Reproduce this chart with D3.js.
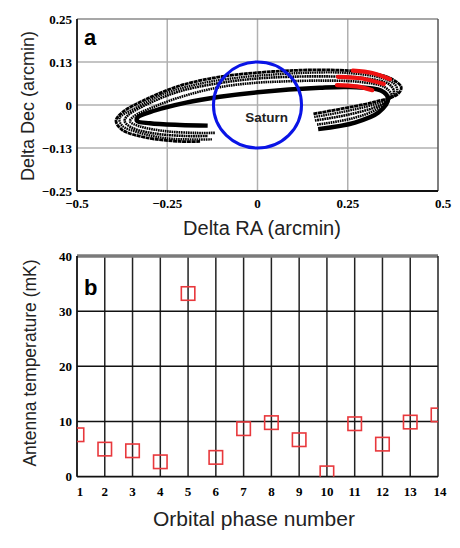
<!DOCTYPE html>
<html><head><meta charset="utf-8">
<script src="https://cdn.jsdelivr.net/npm/d3@7"></script>
<style>body{margin:0;background:#fff}svg{display:block}</style>
</head><body>
<script>
// ---------- Panel a data ----------
const raTicks = [-0.5, -0.25, 0, 0.25, 0.5];
const raTickLabels = ["\u22120.5", "\u22120.25", "0", "0.25", "0.5"];
const decTicks = [-0.25, -0.125, 0, 0.125, 0.25];
const decTickLabels = ["\u22120.25", "\u22120.13", "0", "0.13", "0.25"];
const saturnRadius = [0.122, 0.125]; // [RA, Dec] arcmin
// orbit tracks [RA, Dec]
const track1 = [[0.155,-0.026],[0.242,-0.009],[0.325,0.009],[0.389,0.032],[0.398,0.052],[0.373,0.075],[0.312,0.094],[0.201,0.102],[0.090,0.100],[0,0.094],[-0.104,0.082],[-0.215,0.056],[-0.312,0.015],[-0.375,-0.022],[-0.392,-0.046],[-0.375,-0.072],[-0.312,-0.094],[-0.215,-0.106],[-0.159,-0.106]];
const track1b = [[0.157,-0.035],[0.250,-0.017],[0.332,0.005],[0.386,0.035],[0.382,0.058],[0.345,0.078],[0.250,0.093],[0.150,0.094],[0.050,0.089],[-0.050,0.080],[-0.160,0.062],[-0.260,0.032],[-0.340,-0.010],[-0.382,-0.038],[-0.375,-0.060],[-0.330,-0.080],[-0.250,-0.097],[-0.170,-0.100],[-0.125,-0.100]];
const track2 = [[0.159,-0.045],[0.256,-0.027],[0.339,0.000],[0.378,0.036],[0.365,0.060],[0.298,0.078],[0.201,0.083],[0.090,0.082],[0,0.077],[-0.104,0.064],[-0.215,0.040],[-0.298,0.006],[-0.359,-0.030],[-0.368,-0.047],[-0.348,-0.066],[-0.284,-0.083],[-0.201,-0.090],[-0.137,-0.090]];
const track3 = [[0.165,-0.057],[0.262,-0.039],[0.334,-0.010],[0.370,0.029],[0.352,0.052],[0.284,0.067],[0.173,0.071],[0.062,0.068],[0,0.065],[-0.104,0.052],[-0.201,0.027],[-0.284,-0.004],[-0.345,-0.035],[-0.353,-0.048],[-0.326,-0.062],[-0.256,-0.076],[-0.173,-0.081],[-0.118,-0.081]];
const track4 = [[0.168,-0.070],[0.270,-0.051],[0.335,-0.022],[0.362,0.018],[0.342,0.042],[0.256,0.052],[0.173,0.050],[0,0.037],[-0.104,0.024],[-0.201,0.006],[-0.284,-0.016],[-0.331,-0.035],[-0.334,-0.046],[-0.298,-0.053],[-0.215,-0.058],[-0.138,-0.060]];
const redSeg1 = [[0.264,0.100],[0.318,0.093],[0.367,0.075]];
const redSeg2 = [[0.223,0.082],[0.290,0.077],[0.350,0.061]];
const redSeg3 = [[0.220,0.058],[0.275,0.054],[0.318,0.043]];

// ---------- Panel b data ----------
const phases = [1,2,3,4,5,6,7,8,9,10,11,12,13,14];
const temps = [7.6,5.0,4.7,2.7,33.2,3.5,8.7,9.8,6.7,0.7,9.6,5.9,9.9,11.2];
const tempTicks = [0,10,20,30,40];

const W = 460, H = 548;
const svg = d3.select("body").append("svg").attr("width", W).attr("height", H);
const serif = "'Liberation Serif','Times New Roman',serif";
const sans = "'Liberation Sans',Arial,sans-serif";

// ===== Panel a =====
const ax = d3.scaleLinear().domain([-0.5,0.5]).range([77,438]);
const ay = d3.scaleLinear().domain([-0.25,0.25]).range([191,19]);
const ga = svg.append("g");
ga.selectAll("line.vg").data(raTicks.slice(1,-1)).enter().append("line")
  .attr("x1",d=>ax(d)).attr("x2",d=>ax(d)).attr("y1",ay(0.25)).attr("y2",ay(-0.25))
  .attr("stroke","#b0b0b0").attr("stroke-width",1.5);
ga.selectAll("line.hg").data(decTicks.slice(1,-1)).enter().append("line")
  .attr("x1",ax(-0.5)).attr("x2",ax(0.5)).attr("y1",d=>ay(d)).attr("y2",d=>ay(d))
  .attr("stroke","#b0b0b0").attr("stroke-width",1.5);
ga.append("line").attr("x1",ax(-0.5)).attr("x2",ax(0.5)).attr("y1",ay(0.25)).attr("y2",ay(0.25)).attr("stroke","#8a8a8a").attr("stroke-width",1.5);
ga.append("line").attr("x1",ax(0.5)).attr("x2",ax(0.5)).attr("y1",ay(0.25)).attr("y2",ay(-0.25)).attr("stroke","#555").attr("stroke-width",1.5);
ga.append("line").attr("x1",ax(-0.5)).attr("x2",ax(-0.5)).attr("y1",ay(0.25)).attr("y2",ay(-0.25)).attr("stroke","#111").attr("stroke-width",1.8);
ga.append("line").attr("x1",ax(-0.5)).attr("x2",ax(0.5)).attr("y1",ay(-0.25)).attr("y2",ay(-0.25)).attr("stroke","#111").attr("stroke-width",1.8);

const line = d3.line().x(d=>ax(d[0])).y(d=>ay(d[1])).curve(d3.curveCatmullRom.alpha(0.5));
const tracks = [
  {d:track1, w:2.8, dash:"4 0.6"},
  {d:track1b, w:2.4, dash:"1.6 0.7"},
  {d:track2, w:2.6, dash:"1.8 0.6"},
  {d:track3, w:2.6, dash:"1.6 0.7"},
  {d:track4, w:4.4, dash:null}
];
tracks.forEach(t=>{
  ga.append("path").attr("d",line(t.d)).attr("fill","none").attr("stroke","#000")
    .attr("stroke-width",t.w).attr("stroke-dasharray",t.dash).attr("stroke-linecap","butt");
});
[redSeg1,redSeg2,redSeg3].forEach(s=>{
  ga.append("path").attr("d",line(s)).attr("fill","none").attr("stroke","#ee1111")
    .attr("stroke-width",4.2).attr("stroke-linecap","round");
});
ga.append("ellipse").attr("cx",ax(0)).attr("cy",ay(0))
  .attr("rx",ax(saturnRadius[0])-ax(0)).attr("ry",ay(0)-ay(saturnRadius[1]))
  .attr("fill","none").attr("stroke","#0a14e6").attr("stroke-width",3);
ga.append("text").attr("x",ax(0.025)).attr("y",ay(-0.035)+5).attr("text-anchor","middle")
  .attr("font-family",sans).attr("font-weight","bold").attr("font-size",13.5).attr("fill","#222").text("Saturn");
ga.append("text").attr("x",84).attr("y",45).attr("font-family",sans).attr("font-weight","bold")
  .attr("font-size",22).text("a");
ga.selectAll("text.xt").data(raTicks).enter().append("text")
  .attr("x",(d,i)=>ax(d)+(i===4?5:0)).attr("y",208).attr("text-anchor","middle")
  .attr("font-family",serif).attr("font-weight","bold").attr("font-size",13)
  .text((d,i)=>raTickLabels[i]);
ga.selectAll("text.yt").data(decTicks).enter().append("text")
  .attr("x",72).attr("y",d=>ay(d)+4.5).attr("text-anchor","end")
  .attr("font-family",serif).attr("font-weight","bold").attr("font-size",13)
  .text((d,i)=>decTickLabels[i]);
ga.append("text").attr("x",262).attr("y",235).attr("text-anchor","middle")
  .attr("font-family",sans).attr("font-size",20).attr("fill","#222").text("Delta RA (arcmin)");
ga.append("text").attr("transform","translate(34,106) rotate(-90)").attr("text-anchor","middle")
  .attr("font-family",sans).attr("font-size",18).attr("fill","#222").text("Delta Dec (arcmin)");

// ===== Panel b =====
const bx = d3.scaleLinear().domain([1,14]).range([77,438]);
const by = d3.scaleLinear().domain([0,40]).range([476.7,256]);
const gb = svg.append("g");
gb.append("clipPath").attr("id","clipb").append("rect")
  .attr("x",bx(1)).attr("y",by(40)).attr("width",bx(14)-bx(1)).attr("height",by(0)-by(40));
gb.selectAll("line.vg").data(phases.slice(1,-1)).enter().append("line")
  .attr("x1",d=>bx(d)).attr("x2",d=>bx(d)).attr("y1",by(40)).attr("y2",by(0))
  .attr("stroke","#222").attr("stroke-width",1.5);
gb.selectAll("line.hg").data(tempTicks.slice(1,-1)).enter().append("line")
  .attr("x1",bx(1)).attr("x2",bx(14)).attr("y1",d=>by(d)).attr("y2",d=>by(d))
  .attr("stroke","#111").attr("stroke-width",1.5);
gb.append("line").attr("x1",bx(1)).attr("x2",bx(14)).attr("y1",by(40)).attr("y2",by(40)).attr("stroke","#7a7a7a").attr("stroke-width",3.5);
gb.append("line").attr("x1",bx(14)).attr("x2",bx(14)).attr("y1",by(40)).attr("y2",by(0)).attr("stroke","#222").attr("stroke-width",1.5);
gb.append("line").attr("x1",bx(1)).attr("x2",bx(1)).attr("y1",by(40)).attr("y2",by(0)).attr("stroke","#111").attr("stroke-width",1.8);
gb.append("line").attr("x1",bx(1)).attr("x2",bx(14)).attr("y1",by(0)).attr("y2",by(0)).attr("stroke","#111").attr("stroke-width",1.8);
const sz = 13.5;
gb.append("g").attr("clip-path","url(#clipb)").selectAll("rect").data(phases).enter().append("rect")
  .attr("x",d=>bx(d)-sz/2).attr("y",(d,i)=>by(temps[i])-sz/2)
  .attr("width",sz).attr("height",sz).attr("fill","none")
  .attr("stroke","#e8383c").attr("stroke-width",1.6);
gb.append("text").attr("x",84).attr("y",295).attr("font-family",sans).attr("font-weight","bold")
  .attr("font-size",22).text("b");
gb.selectAll("text.xt").data(phases).enter().append("text")
  .attr("x",(d,i)=>bx(d)+(i===0?3:(i===13?2:0))).attr("y",496).attr("text-anchor","middle")
  .attr("font-family",serif).attr("font-weight","bold").attr("font-size",13).text(d=>d);
gb.selectAll("text.yt").data(tempTicks).enter().append("text")
  .attr("x",72).attr("y",d=>by(d)+4.5).attr("text-anchor","end")
  .attr("font-family",serif).attr("font-weight","bold").attr("font-size",13).text(d=>d);
gb.append("text").attr("x",254).attr("y",526).attr("text-anchor","middle")
  .attr("font-family",sans).attr("font-size",21).attr("fill","#222").text("Orbital phase number");
gb.append("text").attr("transform","translate(36,363) rotate(-90)").attr("text-anchor","middle")
  .attr("font-family",sans).attr("font-size",17.5).attr("fill","#222").text("Antenna temperature (mK)");
</script>
</body></html>
